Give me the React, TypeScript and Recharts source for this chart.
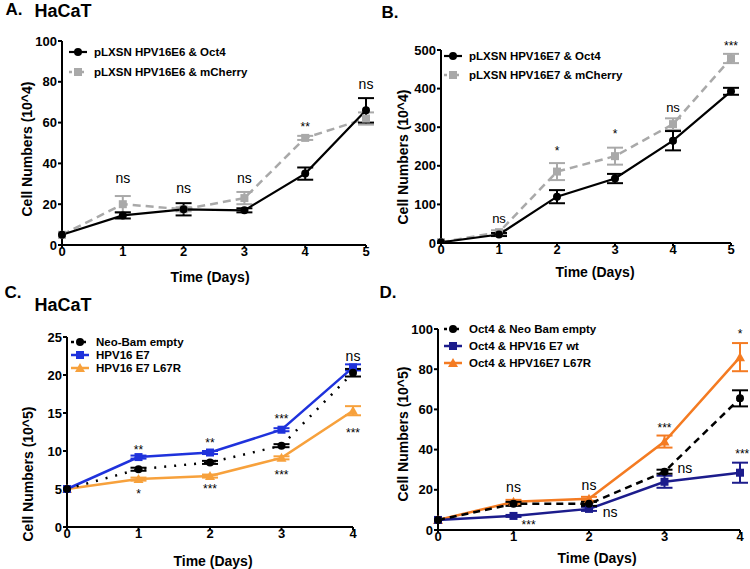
import React from "react";
import { LineChart, Line, XAxis, YAxis, ErrorBar, ReferenceDot, Legend } from "recharts";

const FONT = '"Liberation Sans", Arial, sans-serif';

// shared x values
const daysAB = [0, 1, 2, 3, 4, 5];
const daysCD = [0, 1, 2, 3, 4];

// panel A
const aOct4 = [5, 14.5, 17.5, 17, 35, 66];
const aOct4Err = [0, 1.5, 3, 1, 3, 6];
const aCherry = [5, 20, 17.5, 23, 52.5, 62];
const aCherryErr = [0, 4, 1, 3, 1, 3];
const aTicks = [0, 20, 40, 60, 80, 100];
const aNotes = [
  { day: 1, value: 33, text: "ns" },
  { day: 2, value: 28, text: "ns" },
  { day: 3, value: 33, text: "ns" },
  { day: 4, value: 58, text: "**" },
  { day: 5, value: 79, text: "ns" },
];

// panel B
const bOct4 = [2, 22, 120, 167, 265, 393];
const bOct4Err = [0, 4, 17, 12, 25, 9];
const bCherry = [2, 28, 185, 225, 308, 478];
const bCherryErr = [0, 5, 22, 22, 15, 12];
const bTicks = [0, 100, 200, 300, 400, 500];
const bNotes = [
  { day: 1, value: 65, text: "ns" },
  { day: 2, value: 240, text: "*" },
  { day: 3, value: 282, text: "*" },
  { day: 4, value: 352, text: "ns" },
  { day: 5, value: 512, text: "***" },
];

// panel C
const cNeo = [5, 7.6, 8.5, 10.7, 20.3];
const cNeoErr = [0, 0.2, 0.2, 0.2, 0.5];
const cE7 = [5, 9.2, 9.8, 12.8, 21.0];
const cE7Err = [0, 0.2, 0.2, 0.2, 0.4];
const cL67R = [5, 6.3, 6.7, 9.1, 15.3];
const cL67RErr = [0, 0.2, 0.2, 0.2, 0.6];
const cTicks = [0, 5, 10, 15, 20, 25];
const cNotes = [
  { day: 1, value: 10.2, text: "**" },
  { day: 1, value: 4.4, text: "*" },
  { day: 2, value: 11.1, text: "**" },
  { day: 2, value: 5.1, text: "***" },
  { day: 3, value: 14.3, text: "***" },
  { day: 3, value: 6.9, text: "***" },
  { day: 4, value: 22.5, text: "ns" },
  { day: 4, value: 12.4, text: "***" },
];

// panel D
const dNeo = [5, 13, 13, 29, 65.5];
const dNeoErr = [0, 1, 1, 1, 4];
const dE7 = [5, 7, 10.5, 24, 28.5];
const dE7Err = [0, 0.5, 1, 3, 5];
const dL67R = [5, 14, 15.5, 44, 86];
const dL67RErr = [0, 1, 1, 3, 7];
const dTicks = [0, 20, 40, 60, 80, 100];
const dNotes = [
  { day: 1, value: 21.4, text: "ns" },
  { day: 2, value: 22.4, text: "ns" },
  { day: 1.2, value: 2.5, text: "***" },
  { day: 2.28, value: 9, text: "ns" },
  { day: 3, value: 51, text: "***" },
  { day: 3.27, value: 31, text: "ns" },
  { day: 4, value: 97.5, text: "*" },
  { day: 4.03, value: 38, text: "***" },
];

type Shape = "circle" | "square" | "triangle";
type Series = {
  name: string;
  values: number[];
  errors: number[];
  color: string;
  width: number;
  dash?: string;
  shape: Shape;
};
type Note = { day: number; value: number; text: string };

const drawMarker = (shape: Shape, color: string, cx: number, cy: number, key?: any) => {
  if (shape === "circle") return <circle key={key} cx={cx} cy={cy} r={4} fill={color} />;
  if (shape === "square") return <rect key={key} x={cx - 4} y={cy - 4} width={8} height={8} fill={color} />;
  return <path key={key} d={`M${cx},${cy - 5}L${cx + 5},${cy + 4}L${cx - 5},${cy + 4}Z`} fill={color} />;
};

const makeDot = (shape: Shape, color: string) => (props: any) => {
  const { cx, cy, index } = props;
  if (cx == null || cy == null) return <g key={index} />;
  return drawMarker(shape, color, cx, cy, index);
};

const LegendBox = ({ series, gap }: { series: Series[]; gap: number }) => (
  <div style={{ fontFamily: FONT, fontWeight: "bold", fontSize: 11.5, color: "#000" }}>
    {series.map((s) => (
      <div key={s.name} style={{ display: "flex", alignItems: "center", height: gap }}>
        <svg width={20} height={12} style={{ marginRight: 6 }}>
          <line x1={1} y1={6} x2={19} y2={6} stroke={s.color} strokeWidth={s.width} strokeDasharray={s.dash ? "3 3" : undefined} />
          {drawMarker(s.shape, s.color, 10, 6)}
        </svg>
        <span style={{ whiteSpace: "nowrap" }}>{s.name}</span>
      </div>
    ))}
  </div>
);

type PanelProps = {
  left: number;
  top: number;
  width: number;
  height: number;
  plot: { left: number; right: number; top: number; bottom: number };
  days: number[];
  yTicks: number[];
  series: Series[];
  notes: Note[];
  nsSize: number;
  legend: { left: number; top: number; gap: number };
};

const Panel = ({ left, top, width, height, plot, days, yTicks, series, notes, nsSize, legend }: PanelProps) => {
  const rows = days.map((d, i) => {
    const r: any = { day: d };
    series.forEach((s, k) => {
      r["s" + k] = s.values[i];
      r["e" + k] = s.errors[i];
    });
    return r;
  });
  const yW = 36;
  const tickStyle = { fill: "#000", fontSize: 13, fontWeight: "bold", fontFamily: FONT };
  const order = series.map((s, k) => k).reverse();
  return (
    <div style={{ position: "absolute", left, top }}>
      <LineChart
        width={width}
        height={height}
        data={rows}
        margin={{ top: plot.top, right: width - plot.right, left: plot.left - yW, bottom: 0 }}
      >
        <XAxis
          type="number"
          dataKey="day"
          domain={[days[0], days[days.length - 1]]}
          ticks={days}
          height={height - plot.bottom}
          axisLine={{ stroke: "#000", strokeWidth: 2 }}
          tickLine={{ stroke: "#000", strokeWidth: 2 }}
          tickSize={3}
          tickMargin={-1}
          tick={tickStyle}
        />
        <YAxis
          type="number"
          domain={[yTicks[0], yTicks[yTicks.length - 1]]}
          ticks={yTicks}
          width={yW}
          allowDataOverflow
          axisLine={{ stroke: "#000", strokeWidth: 2 }}
          tickLine={{ stroke: "#000", strokeWidth: 2 }}
          tickSize={4}
          tickMargin={1}
          tick={tickStyle}
        />
        <Legend
          layout="vertical"
          align="center"
          verticalAlign="middle"
          wrapperStyle={{ left: legend.left, top: legend.top, width: "auto", height: "auto" }}
          content={() => <LegendBox series={series} gap={legend.gap} />}
        />
        {order.map((k) => {
          const s = series[k];
          return (
            <Line
              key={s.name}
              dataKey={"s" + k}
              name={s.name}
              stroke={s.color}
              strokeWidth={s.width}
              strokeDasharray={s.dash}
              dot={makeDot(s.shape, s.color)}
              activeDot={false}
              isAnimationActive={false}
            >
              <ErrorBar dataKey={"e" + k} width={8} strokeWidth={2} stroke={s.color} direction="y" />
            </Line>
          );
        })}
        {notes.map((n, i) => (
          <ReferenceDot
            key={i}
            x={n.day}
            y={n.value}
            r={1}
            fill="none"
            stroke="none"
            ifOverflow="visible"
            label={{
              value: n.text,
              position: "center",
              fill: "#000",
              fontSize: n.text === "ns" ? nsSize : 12,
              fontFamily: FONT,
            }}
          />
        ))}
      </LineChart>
    </div>
  );
};

const Title = ({ x, y, size, text, rotate }: { x: number; y: number; size: number; text: string; rotate?: boolean }) => (
  <div
    style={{
      position: "absolute",
      left: x,
      top: y,
      transform: `translate(-50%, -50%)${rotate ? " rotate(-90deg)" : ""}`,
      fontFamily: FONT,
      fontWeight: "bold",
      fontSize: size,
      lineHeight: 1,
      whiteSpace: "nowrap",
      color: "#000",
    }}
  >
    {text}
  </div>
);

const GRAY = "#a9a9a9";
const BLUE = "#1f32dc";
const NAVY = "#1c1c8c";
const ORANGE_C = "#f7a13c";
const ORANGE_D = "#f47b22";

export default function App() {
  const seriesA: Series[] = [
    { name: "pLXSN HPV16E6 & Oct4", values: aOct4, errors: aOct4Err, color: "#000", width: 2.2, shape: "circle" },
    { name: "pLXSN HPV16E6 & mCherry", values: aCherry, errors: aCherryErr, color: GRAY, width: 2.5, dash: "8 5", shape: "square" },
  ];
  const seriesB: Series[] = [
    { name: "pLXSN HPV16E7 & Oct4", values: bOct4, errors: bOct4Err, color: "#000", width: 2.2, shape: "circle" },
    { name: "pLXSN HPV16E7 & mCherry", values: bCherry, errors: bCherryErr, color: GRAY, width: 2.5, dash: "8 5", shape: "square" },
  ];
  const seriesC: Series[] = [
    { name: "Neo-Bam empty", values: cNeo, errors: cNeoErr, color: "#000", width: 2.5, dash: "2 8", shape: "circle" },
    { name: "HPV16 E7", values: cE7, errors: cE7Err, color: BLUE, width: 2.5, shape: "square" },
    { name: "HPV16 E7 L67R", values: cL67R, errors: cL67RErr, color: ORANGE_C, width: 2.5, shape: "triangle" },
  ];
  const seriesD: Series[] = [
    { name: "Oct4 & Neo Bam empty", values: dNeo, errors: dNeoErr, color: "#000", width: 2.5, dash: "7 5", shape: "circle" },
    { name: "Oct4 & HPV16 E7 wt", values: dE7, errors: dE7Err, color: NAVY, width: 2.5, shape: "square" },
    { name: "Oct4 & HPV16E7 L67R", values: dL67R, errors: dL67RErr, color: ORANGE_D, width: 2.5, shape: "triangle" },
  ];

  return (
    <div style={{ position: "absolute", left: 0, top: 0, width: 750, height: 569, background: "#fff", overflow: "hidden" }}>
      <Panel
        left={0}
        top={0}
        width={375}
        height={285}
        plot={{ left: 62, right: 366, top: 41, bottom: 245 }}
        days={daysAB}
        yTicks={aTicks}
        series={seriesA}
        notes={aNotes}
        nsSize={14}
        legend={{ left: 68, top: 42, gap: 20 }}
      />
      <Panel
        left={375}
        top={0}
        width={375}
        height={285}
        plot={{ left: 66, right: 356, top: 50, bottom: 243 }}
        days={daysAB}
        yTicks={bTicks}
        series={seriesB}
        notes={bNotes}
        nsSize={13}
        legend={{ left: 68, top: 46, gap: 19 }}
      />
      <Panel
        left={0}
        top={285}
        width={375}
        height={284}
        plot={{ left: 67, right: 353, top: 52, bottom: 242 }}
        days={daysCD}
        yTicks={cTicks}
        series={seriesC}
        notes={cNotes}
        nsSize={14}
        legend={{ left: 70, top: 50, gap: 13 }}
      />
      <Panel
        left={375}
        top={285}
        width={375}
        height={284}
        plot={{ left: 63, right: 365, top: 44, bottom: 245 }}
        days={daysCD}
        yTicks={dTicks}
        series={seriesD}
        notes={dNotes}
        nsSize={14}
        legend={{ left: 68, top: 35, gap: 17 }}
      />

      <Title x={14} y={9} size={17} text="A." />
      <Title x={63} y={11} size={18} text="HaCaT" />
      <Title x={390} y={12} size={17} text="B." />
      <Title x={13} y={292} size={17} text="C." />
      <Title x={63} y={305} size={18} text="HaCaT" />
      <Title x={388} y={292} size={17} text="D." />

      <Title x={27} y={149} size={14} text="Cell Numbers (10^4)" rotate />
      <Title x={403} y={157} size={14} text="Cell Numbers (10^4)" rotate />
      <Title x={28} y={474} size={14} text="Cell Numbers (10^5)" rotate />
      <Title x={403} y={434} size={14} text="Cell Numbers (10^5)" rotate />

      <Title x={210} y={277} size={14} text="Time (Days)" />
      <Title x={595} y={272} size={14} text="Time (Days)" />
      <Title x={213} y={561} size={14} text="Time (Days)" />
      <Title x={597} y={558} size={14} text="Time (Days)" />
    </div>
  );
}
